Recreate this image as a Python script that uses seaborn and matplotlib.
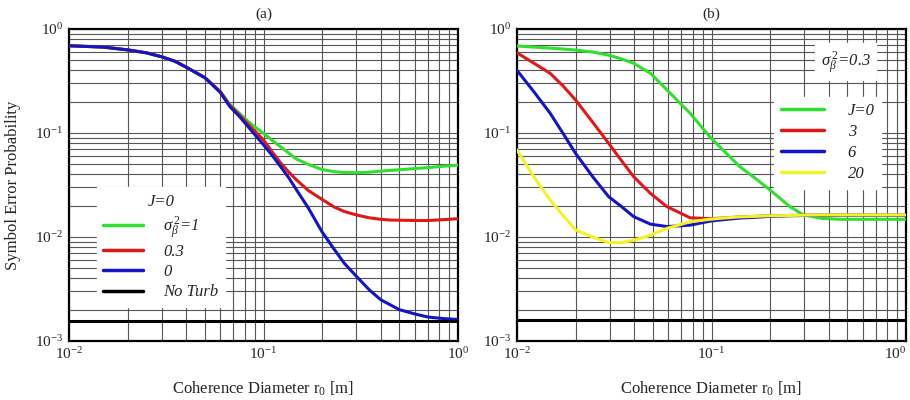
import numpy as np
import pandas as pd
import matplotlib
matplotlib.use("Agg")
import matplotlib.pyplot as plt
from matplotlib.ticker import LogLocator, FixedLocator, NullFormatter
from matplotlib.lines import Line2D
import seaborn as sns

# ---------------- data ----------------
# Panel (a): J = 0, varying turbulence strength sigma_beta^2
a_x = [0.01, 0.015, 0.02, 0.025, 0.03, 0.035, 0.04, 0.05, 0.06, 0.067, 0.075,
       0.085, 0.1, 0.11, 0.122, 0.135, 0.148, 0.17, 0.2, 0.23, 0.26, 0.3,
       0.35, 0.4, 0.45, 0.5, 0.6, 0.7, 0.85, 1.0]
a_s1 = [0.69, 0.67, 0.63, 0.59, 0.54, 0.49, 0.43, 0.34, 0.25, 0.19, 0.155,
        0.125, 0.099, 0.086, 0.074, 0.064, 0.056, 0.050, 0.0445, 0.0425, 0.0417, 0.0415,
        0.042, 0.043, 0.0437, 0.0443, 0.0455, 0.0465, 0.048, 0.049]
a_s03 = [0.69, 0.67, 0.63, 0.59, 0.54, 0.49, 0.43, 0.34, 0.25, 0.185, 0.15,
         0.117, 0.086, 0.067, 0.052, 0.042, 0.0353, 0.028, 0.023, 0.0195, 0.0176, 0.0163,
         0.0153, 0.0148, 0.01456, 0.0145, 0.0144, 0.0144, 0.0147, 0.015]
a_s0 = [0.69, 0.67, 0.63, 0.59, 0.54, 0.49, 0.43, 0.34, 0.245, 0.18, 0.145,
        0.11, 0.077, 0.062, 0.048, 0.037, 0.0283, 0.019, 0.0112, 0.0077, 0.0056, 0.0042,
        0.0031, 0.0025, 0.00222, 0.0020, 0.00182, 0.0017, 0.00164, 0.00161]
a_noturb = 0.00157
a_labels = [r"$\sigma_\beta^{\,2}$=1", "0.3", "0", "No Turb"]

# Panel (b): sigma_beta^2 = 0.3, varying J
b_x = [0.01, 0.0122, 0.0148, 0.0172, 0.02, 0.0245, 0.0296, 0.034, 0.0398, 0.0485,
       0.059, 0.0776, 0.098, 0.12, 0.14, 0.17, 0.2, 0.253, 0.297, 0.37, 0.46,
       0.6, 0.8, 1.0]
b_j0 = [0.687, 0.67, 0.655, 0.642, 0.628, 0.60, 0.56, 0.52, 0.468, 0.375,
        0.26, 0.155, 0.092, 0.063, 0.0474, 0.036, 0.0283, 0.0196, 0.0163, 0.0151, 0.0148,
        0.0148, 0.0148, 0.0148]
b_j3 = [0.59, 0.47, 0.375, 0.285, 0.208, 0.127, 0.0795, 0.056, 0.038, 0.0263,
        0.0196, 0.0153, 0.0150, 0.0153, 0.0156, 0.0158, 0.0160, 0.0161, 0.0162, 0.0162, 0.0162,
        0.0162, 0.0162, 0.0162]
b_j6 = [0.40, 0.25, 0.155, 0.10, 0.0638, 0.038, 0.0244, 0.020, 0.0157, 0.0133,
        0.0126, 0.0130, 0.0142, 0.0148, 0.0152, 0.0155, 0.0158, 0.0160, 0.0161, 0.0162, 0.0162,
        0.0162, 0.0162, 0.0162]
b_j20 = [0.0687, 0.038, 0.0227, 0.0162, 0.0117, 0.0100, 0.00883, 0.0088, 0.0093, 0.0104,
         0.0121, 0.0140, 0.0148, 0.0153, 0.0156, 0.0158, 0.0160, 0.0161, 0.0162, 0.0163, 0.0163,
         0.0163, 0.0163, 0.0163]
b_noturb = 0.00158
b_labels = ["J=0", "3", "6", "20"]

colors = ["#2fe02f", "#e01818", "#1414c8", "#f2f224"]

# ---------------- long-form tables ----------------
dfa = pd.concat([
    pd.DataFrame({"r0": a_x, "P": a_s1, "series": a_labels[0]}),
    pd.DataFrame({"r0": a_x, "P": a_s03, "series": a_labels[1]}),
    pd.DataFrame({"r0": a_x, "P": a_s0, "series": a_labels[2]}),
    pd.DataFrame({"r0": [0.01, 1.0], "P": [a_noturb, a_noturb], "series": a_labels[3]}),
])
dfb = pd.concat([
    pd.DataFrame({"r0": b_x, "P": b_j0, "series": b_labels[0]}),
    pd.DataFrame({"r0": b_x, "P": b_j3, "series": b_labels[1]}),
    pd.DataFrame({"r0": b_x, "P": b_j6, "series": b_labels[2]}),
    pd.DataFrame({"r0": b_x, "P": b_j20, "series": b_labels[3]}),
])
dfb_nt = pd.DataFrame({"r0": [0.01, 1.0], "P": [b_noturb, b_noturb]})

sns.set_theme(style="white")
plt.rcParams["font.family"] = ["Liberation Serif", "DejaVu Serif"]
plt.rcParams["mathtext.fontset"] = "custom"
plt.rcParams["mathtext.rm"] = "Liberation Serif"
plt.rcParams["mathtext.it"] = "Liberation Serif:italic"

fig = plt.figure(figsize=(9.1, 4.0), dpi=100)
axA = fig.add_axes([69 / 910, 59 / 400, 389 / 910, 312 / 400])
axB = fig.add_axes([517 / 910, 59 / 400, 389 / 910, 312 / 400])

pal_a = dict(zip(a_labels, colors[:3] + ["black"]))
pal_b = dict(zip(b_labels, colors))

sns.lineplot(data=dfa, x="r0", y="P", hue="series", palette=pal_a, ax=axA,
             linewidth=2.2, legend=False, estimator=None, sort=False, zorder=5)
sns.lineplot(data=dfb, x="r0", y="P", hue="series", palette=pal_b, ax=axB,
             linewidth=2.2, legend=False, estimator=None, sort=False, zorder=5)
sns.lineplot(data=dfb_nt, x="r0", y="P", color="black", ax=axB,
             linewidth=2.2, legend=False, estimator=None, zorder=5)


def tick_label(e):
    return r"$10^{%d}$" % e


for ax, title in [(axA, "(a)"), (axB, "(b)")]:
    ax.set_xscale("log")
    ax.set_yscale("log")
    ax.set_xlim(0.01, 1.0)
    ax.set_ylim(1e-3, 1.0)
    ax.xaxis.set_major_locator(FixedLocator([0.01, 0.1, 1.0]))
    ax.yaxis.set_major_locator(FixedLocator([0.001, 0.01, 0.1, 1.0]))
    ax.xaxis.set_minor_locator(LogLocator(base=10, subs=np.arange(2, 10)))
    ax.yaxis.set_minor_locator(LogLocator(base=10, subs=np.arange(2, 10)))
    ax.xaxis.set_minor_formatter(NullFormatter())
    ax.yaxis.set_minor_formatter(NullFormatter())
    ax.set_xticklabels([tick_label(-2), tick_label(-1), tick_label(0)])
    ax.set_yticklabels([tick_label(-3), tick_label(-2), tick_label(-1), tick_label(0)])
    ax.grid(True, which="both", color="#555555", linewidth=0.8)
    ax.tick_params(which="both", length=0, labelsize=11, pad=4)
    for s in ax.spines.values():
        s.set_color("black")
        s.set_linewidth(1.6)
    ax.set_xlabel(r"Coherence Diameter r$_0$ [m]", fontsize=12, labelpad=12)
    ax.set_ylabel("")
    ax.set_title(title, fontsize=11, pad=8)

axA.set_ylabel("Symbol Error Probability", fontsize=12, labelpad=10)
# keep the right-most tick label of panel (b) inside the figure
axB.get_xticklabels()[-1].set_horizontalalignment("right")

# ---------------- legends ----------------
h_a = [Line2D([], [], color=pal_a[l], lw=2.5) for l in a_labels]
legA = axA.legend(h_a, a_labels, loc="upper left", bbox_to_anchor=(0.05, 0.52),
                  frameon=True, fancybox=False, framealpha=1, edgecolor="white",
                  prop={"style": "italic", "size": 12}, handlelength=2.4,
                  handletextpad=1.2, labelspacing=0.25, borderpad=0.4,
                  title="J=0", title_fontproperties={"style": "italic", "size": 12})
legA.set_zorder(10)

h_b = [Line2D([], [], color=pal_b[l], lw=2.5) for l in b_labels]
legB = axB.legend(h_b, b_labels, loc="upper left", bbox_to_anchor=(0.64, 0.81),
                  frameon=True, fancybox=False, framealpha=1, edgecolor="white",
                  prop={"style": "italic", "size": 12}, handlelength=2.6,
                  handletextpad=1.4, labelspacing=0.3, borderpad=0.4)
legB.set_zorder(10)
axB.text(0.845, 0.895, r"$\sigma_\beta^{\,2}$=0.3", transform=axB.transAxes,
         fontsize=12, style="italic", ha="center", va="center", zorder=11,
         bbox=dict(facecolor="white", edgecolor="white", pad=4))

fig.savefig("out.png", dpi=100)
